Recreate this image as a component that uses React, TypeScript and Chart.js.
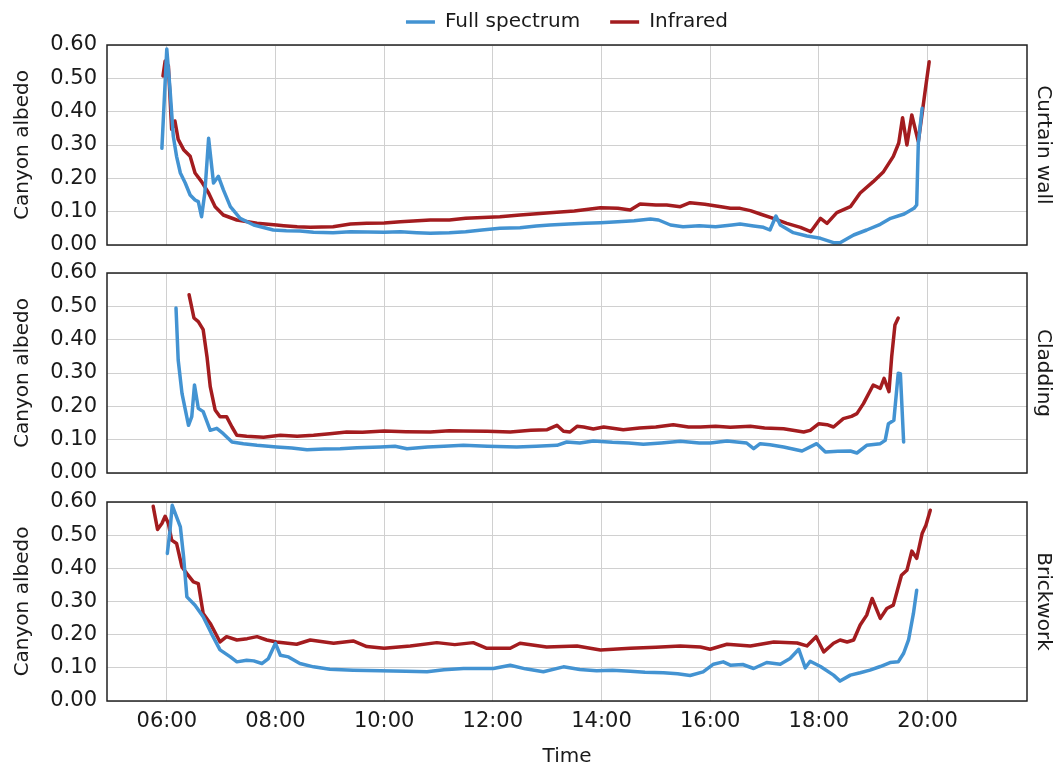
import React, { useEffect, useRef } from "react";
import { Chart, registerables } from "chart.js";

Chart.register(...registerables);

// ---------- data ----------
const seriesNames = ["Full spectrum", "Infrared"];
const panelNames = ["Curtain wall", "Cladding", "Brickwork"];
const xTicks = [6, 8, 10, 12, 14, 16, 18, 20];
const yTicks = [0, 0.1, 0.2, 0.3, 0.4, 0.5, 0.6];
const xMin = 4.9;
const xMax = 21.83;

// Curtain wall — times in decimal hours
const curtainFullT = [5.91, 6.0, 6.06, 6.12, 6.18, 6.25, 6.34, 6.43, 6.52, 6.58, 6.64, 6.7, 6.77, 6.86, 6.95, 7.04, 7.17, 7.35, 7.6, 7.96, 8.2, 8.45, 8.7, 9.06, 9.38, 9.7, 10.0, 10.3, 10.6, 10.85, 11.2, 11.5, 11.8, 12.13, 12.5, 12.8, 13.05, 13.4, 13.7, 13.98, 14.3, 14.6, 14.9, 15.05, 15.27, 15.5, 15.8, 16.1, 16.4, 16.55, 16.8, 16.98, 17.1, 17.21, 17.29, 17.53, 17.78, 18.03, 18.27, 18.39, 18.64, 18.88, 19.13, 19.32, 19.57, 19.75, 19.8, 19.83, 19.9];
const curtainFullV = [0.29, 0.588, 0.467, 0.326, 0.266, 0.216, 0.186, 0.15, 0.135, 0.13, 0.085, 0.156, 0.32, 0.186, 0.206, 0.166, 0.115, 0.08, 0.06, 0.045, 0.043, 0.042, 0.038, 0.037, 0.04, 0.039, 0.038, 0.04, 0.037, 0.035, 0.037, 0.04, 0.045, 0.05, 0.052, 0.057, 0.06, 0.063, 0.065, 0.067, 0.07, 0.073, 0.078, 0.075, 0.06, 0.055, 0.058, 0.055, 0.06, 0.063, 0.057, 0.053, 0.045, 0.087, 0.06, 0.037, 0.027, 0.02, 0.007, 0.007, 0.03, 0.045, 0.062, 0.08, 0.093, 0.11, 0.12, 0.306, 0.41];
const curtainIrT = [5.93, 5.97, 6.03, 6.09, 6.15, 6.21, 6.31, 6.43, 6.52, 6.64, 6.77, 6.89, 7.04, 7.29, 7.66, 8.02, 8.15, 8.4, 8.64, 9.06, 9.38, 9.68, 10.0, 10.3, 10.85, 11.2, 11.5, 12.13, 12.5, 13.05, 13.5, 13.98, 14.3, 14.53, 14.71, 15.0, 15.2, 15.45, 15.63, 15.9, 16.2, 16.37, 16.55, 16.74, 16.92, 17.16, 17.41, 17.66, 17.85, 18.03, 18.15, 18.33, 18.58, 18.76, 19.0, 19.19, 19.37, 19.47, 19.54, 19.62, 19.71, 19.83, 19.96, 20.03];
const curtainIrV = [0.507, 0.552, 0.537, 0.347, 0.372, 0.317, 0.286, 0.266, 0.216, 0.19, 0.156, 0.115, 0.09, 0.075, 0.065, 0.06, 0.058, 0.055, 0.053, 0.055, 0.063, 0.065, 0.066, 0.07, 0.075, 0.075, 0.08, 0.085, 0.09, 0.097, 0.102, 0.112, 0.11, 0.105, 0.123, 0.12, 0.12, 0.115, 0.127, 0.122, 0.115, 0.11, 0.11, 0.103, 0.093, 0.08, 0.065, 0.053, 0.04, 0.08, 0.065, 0.097, 0.115, 0.156, 0.19, 0.22, 0.266, 0.306, 0.382, 0.3, 0.39, 0.31, 0.467, 0.55];

// Cladding
const claddingFullT = [6.17, 6.21, 6.28, 6.4, 6.46, 6.51, 6.58, 6.67, 6.8, 6.92, 7.04, 7.2, 7.41, 7.66, 8.02, 8.3, 8.58, 8.9, 9.19, 9.5, 9.93, 10.2, 10.42, 10.8, 11.1, 11.46, 11.9, 12.44, 12.8, 13.18, 13.36, 13.6, 13.85, 14.2, 14.5, 14.77, 15.1, 15.45, 15.8, 16.0, 16.31, 16.67, 16.8, 16.92, 17.1, 17.35, 17.69, 17.96, 18.12, 18.35, 18.58, 18.7, 18.88, 19.13, 19.22, 19.28, 19.38, 19.46, 19.5, 19.56];
const claddingFullV = [0.495, 0.339, 0.239, 0.143, 0.169, 0.264, 0.194, 0.184, 0.128, 0.134, 0.118, 0.093, 0.088, 0.083, 0.078, 0.075, 0.07, 0.072, 0.073, 0.076, 0.078, 0.08, 0.073, 0.078, 0.08, 0.083, 0.08, 0.078, 0.08, 0.083, 0.093, 0.09, 0.096, 0.092, 0.09, 0.086, 0.09, 0.095, 0.09, 0.09, 0.096, 0.09, 0.073, 0.088, 0.085, 0.078, 0.066, 0.088, 0.063, 0.065, 0.066, 0.06, 0.083, 0.088, 0.098, 0.148, 0.158, 0.299, 0.298, 0.093];
const claddingIrT = [6.41, 6.5, 6.58, 6.67, 6.74, 6.8, 6.89, 6.98, 7.1, 7.2, 7.29, 7.47, 7.78, 8.09, 8.4, 8.7, 9.0, 9.31, 9.6, 10.0, 10.4, 10.85, 11.2, 11.46, 11.9, 12.32, 12.7, 13.0, 13.18, 13.3, 13.42, 13.55, 13.67, 13.85, 14.04, 14.4, 14.7, 15.0, 15.32, 15.6, 15.82, 16.1, 16.37, 16.74, 17.0, 17.35, 17.72, 17.84, 18.0, 18.15, 18.27, 18.45, 18.6, 18.7, 18.82, 19.0, 19.13, 19.2, 19.29, 19.34, 19.4, 19.46];
const claddingIrV = [0.535, 0.465, 0.454, 0.43, 0.349, 0.259, 0.189, 0.169, 0.169, 0.138, 0.113, 0.11, 0.107, 0.113, 0.11, 0.113, 0.118, 0.123, 0.122, 0.126, 0.124, 0.123, 0.127, 0.126, 0.125, 0.123, 0.128, 0.13, 0.143, 0.125, 0.123, 0.14, 0.138, 0.132, 0.138, 0.13, 0.135, 0.138, 0.145, 0.138, 0.138, 0.14, 0.137, 0.14, 0.135, 0.133, 0.123, 0.128, 0.148, 0.145, 0.138, 0.163, 0.17, 0.178, 0.208, 0.264, 0.254, 0.284, 0.244, 0.349, 0.444, 0.465];

// Brickwork
const brickFullT = [6.01, 6.06, 6.1, 6.18, 6.25, 6.31, 6.37, 6.52, 6.67, 6.82, 6.98, 7.17, 7.29, 7.47, 7.6, 7.75, 7.87, 8.0, 8.09, 8.24, 8.45, 8.7, 9.0, 9.43, 9.93, 10.4, 10.79, 11.1, 11.46, 12.01, 12.32, 12.6, 12.93, 13.3, 13.6, 13.91, 14.2, 14.53, 14.8, 15.14, 15.4, 15.63, 15.87, 16.06, 16.24, 16.37, 16.6, 16.8, 17.04, 17.29, 17.47, 17.63, 17.75, 17.84, 18.03, 18.27, 18.39, 18.58, 18.76, 18.94, 19.13, 19.31, 19.46, 19.56, 19.65, 19.74, 19.8];
const brickFullV = [0.445, 0.515, 0.59, 0.555, 0.525, 0.434, 0.314, 0.289, 0.254, 0.204, 0.154, 0.133, 0.118, 0.123, 0.121, 0.113, 0.128, 0.174, 0.138, 0.133, 0.113, 0.103, 0.096, 0.093, 0.091, 0.09, 0.088, 0.094, 0.098, 0.098, 0.108, 0.097, 0.088, 0.103, 0.095, 0.091, 0.093, 0.09, 0.087, 0.085, 0.082, 0.077, 0.088, 0.111, 0.118, 0.108, 0.11, 0.098, 0.116, 0.111, 0.128, 0.156, 0.1, 0.12, 0.104, 0.078, 0.06, 0.078, 0.085, 0.093, 0.104, 0.116, 0.118, 0.144, 0.184, 0.264, 0.334];
const brickIrT = [5.75, 5.83, 5.91, 5.97, 6.03, 6.09, 6.18, 6.28, 6.37, 6.49, 6.58, 6.67, 6.8, 6.98, 7.1, 7.29, 7.48, 7.66, 7.84, 8.02, 8.39, 8.64, 9.07, 9.43, 9.68, 10.0, 10.48, 10.97, 11.3, 11.64, 11.89, 12.32, 12.5, 12.99, 13.55, 13.98, 14.53, 15.0, 15.45, 15.82, 16.0, 16.31, 16.74, 17.17, 17.6, 17.78, 17.95, 18.09, 18.27, 18.39, 18.52, 18.64, 18.76, 18.88, 18.98, 19.13, 19.25, 19.37, 19.52, 19.62, 19.71, 19.8, 19.9, 19.97, 20.05];
const brickIrV = [0.587, 0.517, 0.535, 0.557, 0.535, 0.485, 0.475, 0.404, 0.384, 0.359, 0.354, 0.264, 0.234, 0.178, 0.194, 0.184, 0.188, 0.194, 0.184, 0.178, 0.171, 0.184, 0.174, 0.181, 0.164, 0.159, 0.166, 0.176, 0.17, 0.176, 0.159, 0.159, 0.174, 0.163, 0.166, 0.154, 0.159, 0.162, 0.166, 0.163, 0.156, 0.171, 0.166, 0.178, 0.175, 0.166, 0.194, 0.148, 0.174, 0.184, 0.178, 0.184, 0.229, 0.259, 0.309, 0.249, 0.279, 0.289, 0.379, 0.394, 0.452, 0.43, 0.505, 0.53, 0.575];

const panelSeries = [
  [[curtainFullT, curtainFullV], [curtainIrT, curtainIrV]],
  [[claddingFullT, claddingFullV], [claddingIrT, claddingIrV]],
  [[brickFullT, brickFullV], [brickIrT, brickIrV]],
];

// ---------- style / layout ----------
const W = 1053;
const H = 767;
const FONT = "'DejaVu Sans', sans-serif";
const TEXT = "#1a1a1a";
const GRID = "#d0d0d0";
const FRAME = "#222222";
const COLORS = ["#4393d2", "#a31c1f"];
const bands = [
  { top: 45, bottom: 245 },
  { top: 273, bottom: 473 },
  { top: 502, bottom: 701 },
];

function fmtTime(h: number): string {
  const hh = Math.floor(h + 1e-9);
  const mm = Math.round((h - hh) * 60);
  return String(hh).padStart(2, "0") + ":" + String(mm).padStart(2, "0");
}

const framePlugin = {
  id: "frame",
  afterDraw(chart: any) {
    const a = chart.chartArea;
    const ctx = chart.ctx;
    ctx.save();
    ctx.strokeStyle = FRAME;
    ctx.lineWidth = 1.5;
    ctx.strokeRect(a.left, a.top, a.right - a.left, a.bottom - a.top);
    ctx.restore();
  },
};

function makeConfig(p: number): any {
  const isFirst = p === 0;
  const isLast = p === 2;
  const datasets = panelSeries[p].map(([t, v], i) => ({
    label: seriesNames[i],
    data: (t as number[]).map((x, k) => ({ x, y: (v as number[])[k] })),
    borderColor: COLORS[i],
    backgroundColor: COLORS[i],
    borderWidth: 3.5,
    pointRadius: 0,
    tension: 0,
    fill: false,
    borderJoinStyle: "round",
    borderCapStyle: "round",
  }));
  const scales: any = {
    x: {
      type: "linear",
      min: xMin,
      max: xMax,
      afterBuildTicks: (s: any) => {
        s.ticks = xTicks.map((value) => ({ value }));
      },
      grid: { color: GRID, lineWidth: 1, drawTicks: false },
      border: { display: false },
      ticks: {
        display: isLast,
        callback: (v: any) => fmtTime(Number(v)),
        font: { family: FONT, size: 21 },
        color: TEXT,
        padding: 8,
        maxRotation: 0,
        autoSkip: false,
      },
      title: {
        display: isLast,
        text: "Time",
        font: { family: FONT, size: 20, lineHeight: 1 },
        color: TEXT,
        padding: 0,
      },
      afterFit: (s: any) => {
        s.height = isLast ? 66 : 0;
      },
    },
    y: {
      type: "linear",
      position: "left",
      min: 0,
      max: 0.6,
      afterBuildTicks: (s: any) => {
        s.ticks = yTicks.map((value) => ({ value }));
      },
      grid: { color: GRID, lineWidth: 1, drawTicks: false },
      border: { display: false },
      ticks: {
        callback: (v: any) => Number(v).toFixed(2),
        font: { family: FONT, size: 21 },
        color: TEXT,
        padding: 10,
      },
      title: {
        display: true,
        text: "Canyon albedo",
        font: { family: FONT, size: 20 },
        color: TEXT,
        padding: { top: 4, bottom: 0 },
      },
      afterFit: (s: any) => {
        s.width = 100;
      },
    },
    yR: {
      type: "linear",
      position: "right",
      display: true,
      grid: { display: false, drawTicks: false },
      border: { display: false },
      ticks: { display: false },
      title: {
        display: true,
        text: panelNames[p],
        font: { family: FONT, size: 20, lineHeight: 1 },
        color: TEXT,
        padding: 0,
      },
      afterFit: (s: any) => {
        s.width = 26;
      },
    },
  };
  if (isFirst) {
    scales.xSpacer = {
      type: "linear",
      position: "top",
      display: true,
      grid: { display: false, drawTicks: false },
      border: { display: false },
      ticks: { display: false },
      afterFit: (s: any) => {
        s.height = 3;
      },
    };
  }
  const band = bands[p];
  return {
    type: "line",
    data: { datasets },
    options: {
      responsive: false,
      animation: false,
      devicePixelRatio: 1,
      layout: {
        padding: {
          top: isFirst ? -18 : band.top,
          left: 7,
          right: 0,
          bottom: isLast ? 0 : H - band.bottom,
        },
      },
      plugins: {
        legend: {
          display: isFirst,
          position: "top",
          fullSize: false,
          labels: {
            usePointStyle: true,
            pointStyle: "line",
            pointStyleWidth: 29,
            padding: 30,
            color: TEXT,
            font: { family: FONT, size: 20 },
          },
        },
        tooltip: { enabled: false },
      },
      scales,
    },
    plugins: [framePlugin],
  };
}

export default function App() {
  const r0 = useRef<HTMLCanvasElement | null>(null);
  const r1 = useRef<HTMLCanvasElement | null>(null);
  const r2 = useRef<HTMLCanvasElement | null>(null);

  useEffect(() => {
    const refs = [r0, r1, r2];
    const charts = refs.map((r, p) => new Chart(r.current as HTMLCanvasElement, makeConfig(p)));
    return () => charts.forEach((c) => c.destroy());
  }, []);

  const cs: React.CSSProperties = {
    position: "absolute",
    left: 0,
    top: 0,
    width: W,
    height: H,
    pointerEvents: "none",
  };

  return (
    <div style={{ position: "fixed", left: 0, top: 0, width: W, height: H, background: "#ffffff" }}>
      <canvas ref={r0} width={W} height={H} style={cs} />
      <canvas ref={r1} width={W} height={H} style={cs} />
      <canvas ref={r2} width={W} height={H} style={cs} />
    </div>
  );
}
